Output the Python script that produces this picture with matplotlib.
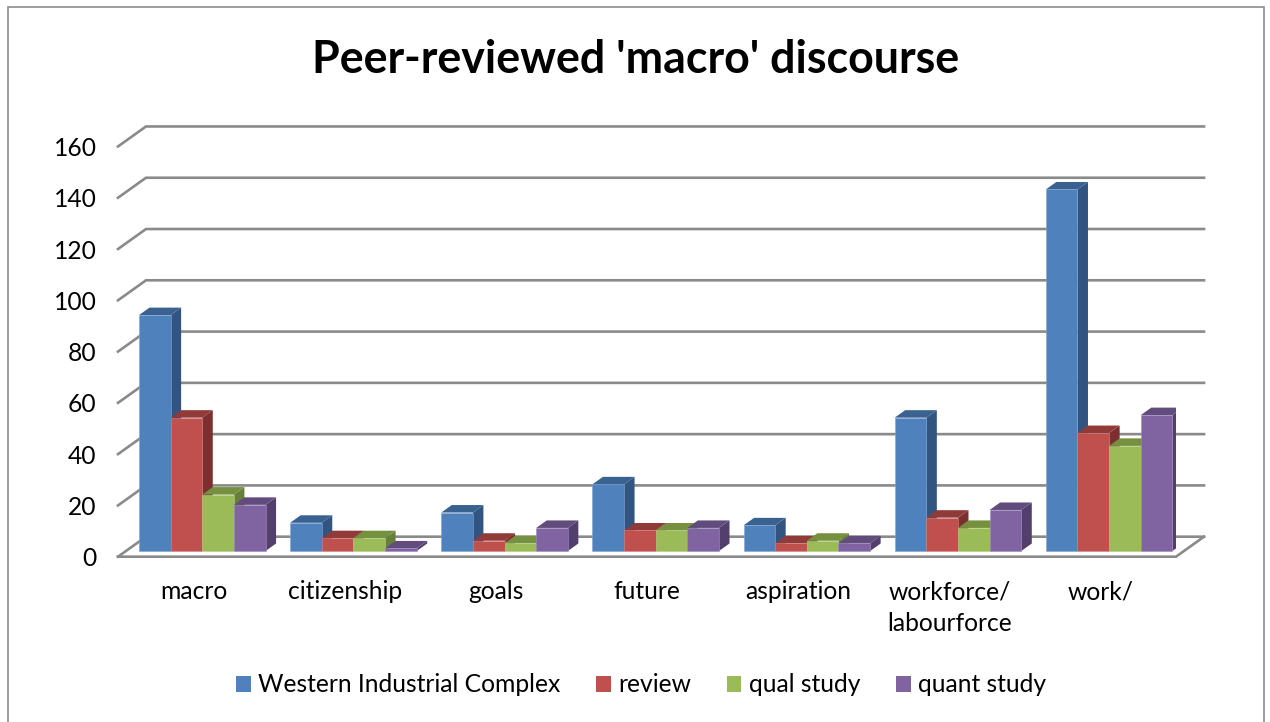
import matplotlib
matplotlib.use('Agg')
import matplotlib.pyplot as plt
from matplotlib.patches import Polygon, Patch, Rectangle

categories = ['macro', 'citizenship', 'goals', 'future', 'aspiration', 'workforce/\nlabourforce', 'work/\n ']
western = [92, 11, 15, 26, 10, 52, 141]
review = [52, 5, 4, 8, 3, 13, 46]
qual = [22, 5, 3, 8, 4, 9, 41]
quant = [18, 1, 9, 9, 3, 16, 53]
series_names = ['Western Industrial Complex', 'review', 'qual study', 'quant study']
y_ticks = [0, 20, 40, 60, 80, 100, 120, 140, 160]

front_cols = ['#4f81bd', '#c0504d', '#9bbb59', '#8064a2']
top_cols = ['#3a6290', '#913b39', '#75903f', '#624c7d']
side_cols = ['#325480', '#7b2f2e', '#667f3b', '#533f6c']
edge_cols = ['#7fa5d3', '#d48583', '#b6cf83', '#a08ac0']
grid_col = '#8a8a8a'

W, H = 1270, 722
plt.rcParams['font.family'] = ['Lato', 'DejaVu Sans']

fig = plt.figure(figsize=(W / 100, H / 100), dpi=100)
# axes box: front edge of the floor, pixels measured on the reference
left, right, floor, top = 118, 1176, 556.7, 100
ax = fig.add_axes([left / W, 1 - floor / H, (right - left) / W, (floor - top) / H])

px_x = (right - left) / 7          # pixels per category
px_y = 2.564                       # pixels per unit of value
base_px = 551                      # bars stand here
ax.set_xlim(-0.5, 6.5)
ax.set_ylim((base_px - floor) / px_y, (base_px - top) / px_y)
for s in ax.spines.values():
    s.set_visible(False)

# walls
wall_dx, wall_dy = 28 / px_x, 20 / px_y
floor_y = (base_px - floor) / px_y
for v in y_ticks:
    ax.plot([-0.5, -0.5 + wall_dx, 6.5 + wall_dx],
            [floor_y + v, floor_y + v + wall_dy, floor_y + v + wall_dy],
            color=grid_col, lw=1.9, clip_on=False, zorder=1, solid_joinstyle='miter')
ax.plot([-0.5, 6.5, 6.5 + wall_dx], [floor_y, floor_y, floor_y + wall_dy],
        color=grid_col, lw=1.9, clip_on=False, zorder=1, solid_joinstyle='miter')

# bars, each with its side and top
bar_w = 31.65 / px_x
shift = 8.7 / px_x
dep_x, dep_y = 10.5 / px_x, 7.5 / px_y
for s, vals in enumerate([western, review, qual, quant]):
    z = 3 + s
    for i, v in enumerate(vals):
        x0 = i + shift + (s - 2) * bar_w
        x1 = x0 + bar_w
        ax.add_patch(Polygon([(x1, 0), (x1 + dep_x, dep_y), (x1 + dep_x, v + dep_y), (x1, v)],
                             fc=side_cols[s], ec='none', zorder=z))
        ax.add_patch(Polygon([(x0, v), (x0 + dep_x, v + dep_y), (x1 + dep_x, v + dep_y), (x1, v)],
                             fc=top_cols[s], ec='none', zorder=z))
    ax.bar([i + shift + (s - 2) * bar_w for i in range(7)], vals, width=bar_w, align='edge',
           color=front_cols[s], edgecolor=edge_cols[s], linewidth=0.4, zorder=z + 0.5)

ax.set_xticks(range(7), categories)
ax.set_yticks([floor_y + v for v in y_ticks], y_ticks)
ax.tick_params(axis='both', length=0, labelsize=17.7, colors='black')
ax.tick_params(axis='y', pad=15.5)
ax.tick_params(axis='x', pad=17)
for t in ax.get_xticklabels():
    t.set_linespacing(1.45)
for t in ax.get_yticklabels():
    t.set_va('center_baseline')

fig.suptitle("Peer-reviewed 'macro' discourse", x=636 / W, y=1 - 60 / H, va='center',
             fontsize=32.2, fontweight='bold')

handles = [Patch(fc=c, ec='none') for c in front_cols]
fig.legend(handles, series_names, loc='center', bbox_to_anchor=(641 / W, 1 - 685 / H), ncol=4,
           frameon=False, fontsize=17.7, handlelength=0.6, handleheight=0.6,
           handletextpad=0.3, columnspacing=1.45)

# outer chart border, bottom edge runs off the picture
fig.add_artist(Rectangle((8 / W, -0.02), (1264 - 8) / W, 1.02 - 6.5 / H, transform=fig.transFigure,
                         fill=False, ec='#8c8c8c', lw=1.2))

fig.savefig('out.png', dpi=100)
